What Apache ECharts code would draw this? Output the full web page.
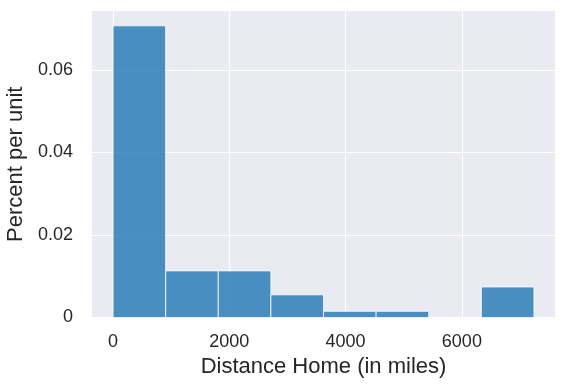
<!DOCTYPE html>
<html>
<head>
<meta charset="utf-8">
<script src="https://cdn.jsdelivr.net/npm/echarts@6/dist/echarts.min.js"></script>
<style>html,body{margin:0;padding:0;background:#fff;}#c{width:565px;height:389px;}</style>
</head>
<body>
<div id="c"></div>
<script>
var binEdges = [0, 905, 1810, 2715, 3620, 4525, 5430, 6335, 7240];
var values = [0.0707, 0.0113, 0.0113, 0.0055, 0.0015, 0.0015, 0, 0.0074];
var xTicks = [0, 2000, 4000, 6000];
var yTicks = [0, 0.02, 0.04, 0.06];
var xLabel = 'Distance Home (in miles)';
var yLabel = 'Percent per unit';

var data = values.map(function (v, i) { return [binEdges[i], binEdges[i + 1], v]; });
var font = '"Liberation Sans", Arial, sans-serif';

var chart = echarts.init(document.getElementById('c'), null, { renderer: 'canvas' });
chart.setOption({
  animation: false,
  backgroundColor: '#ffffff',
  grid: { left: 92, right: 10, top: 11, bottom: 71.5, show: true, backgroundColor: '#EAEAF2', borderWidth: 0, containLabel: false, outerBoundsMode: 'none' },
  xAxis: {
    type: 'value', min: -362, max: 7602,
    axisLine: { show: false },
    splitLine: { show: true, lineStyle: { color: '#ffffff', width: 1.2 } },
    axisLabel: {
      fontFamily: font, fontSize: 18, color: '#262626', margin: 16,
      customValues: xTicks, formatter: function (v) { return String(v); }
    },
    axisTick: { show: false, customValues: xTicks },
    name: xLabel, nameLocation: 'middle', nameGap: 37,
    nameTextStyle: { fontFamily: font, fontSize: 22, color: '#262626' }
  },
  yAxis: {
    type: 'value', min: 0, max: 0.0743,
    axisLine: { show: false }, axisTick: { show: false, customValues: yTicks },
    splitLine: { show: true, lineStyle: { color: '#ffffff', width: 1.2 } },
    axisLabel: {
      fontFamily: font, fontSize: 18, color: '#262626', margin: 19,
      customValues: yTicks, formatter: function (v) { return v === 0 ? '0' : v.toFixed(2); }
    },
    name: yLabel, nameLocation: 'middle', nameGap: 63, nameRotate: 90,
    nameTextStyle: { fontFamily: font, fontSize: 22, color: '#262626' }
  },
  series: [{
    type: 'custom',
    data: data,
    encode: { x: [0, 1], y: 2 },
    renderItem: function (params, api) {
      var p0 = api.coord([api.value(0), api.value(2)]);
      var p1 = api.coord([api.value(1), 0]);
      return {
        type: 'rect',
        shape: { x: p0[0], y: p0[1], width: p1[0] - p0[0], height: p1[1] - p0[1] },
        style: { fill: 'rgba(31,119,180,0.8)', stroke: 'rgba(255,255,255,0.8)', lineWidth: 1 }
      };
    }
  }]
});
</script>
</body>
</html>
